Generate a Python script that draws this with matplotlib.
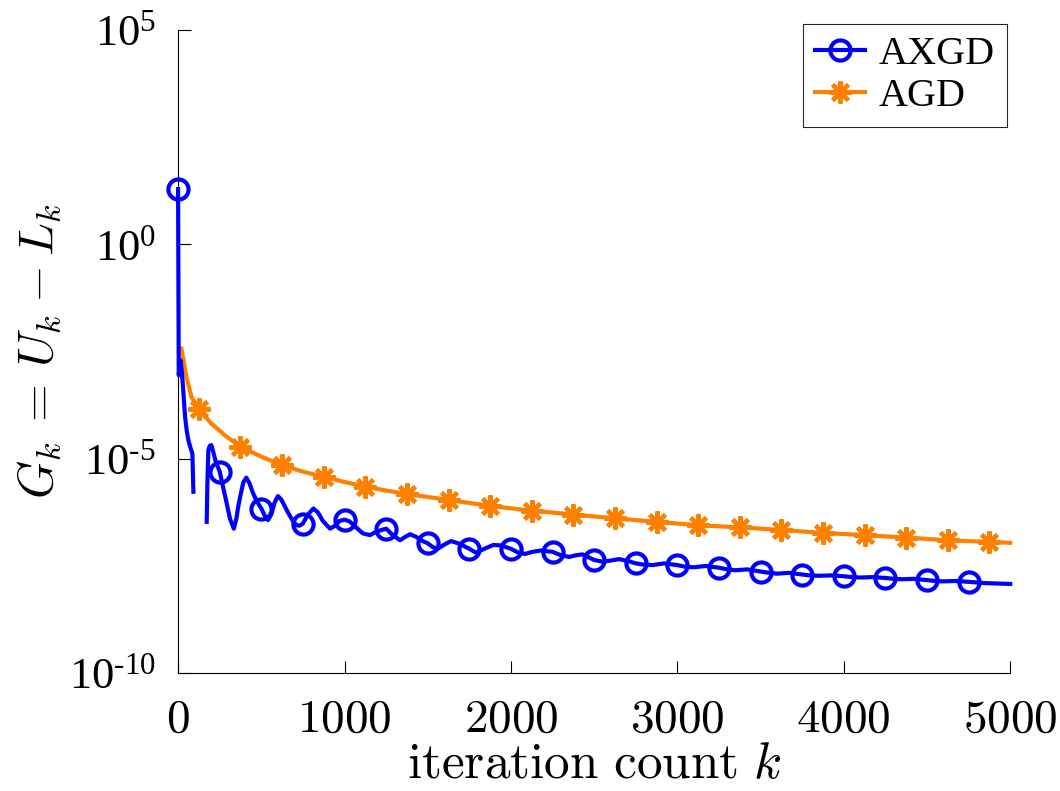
import numpy as np
import matplotlib
matplotlib.use("Agg")
from matplotlib import pyplot as plt

# AXGD: iteration k and log10 of the gap G_k (nan = gap in the curve)
axgd_k = [0, 4, 14, 22, 30, 42, 52, 62, 75, 86, 92, 130,
          172, 176, 182, 190, 200, 212, 225, 250, 270, 290, 312, 335, 350,
          362, 375, 392, 410, 430, 450, 475, 500, 520, 540, 560, 580, 600,
          620, 640, 660, 690, 713, 730, 750, 780, 813, 840, 870, 913, 940,
          970, 1000, 1030, 1070, 1110, 1154, 1190, 1250, 1290, 1334, 1365,
          1394, 1430, 1470, 1500, 1530, 1560, 1600, 1640, 1690, 1750, 1790,
          1840, 1894, 1940, 2000, 2040, 2085, 2130, 2180, 2250, 2300, 2350,
          2390, 2430, 2500, 2550, 2590, 2650, 2700, 2750, 2800, 2850, 2920,
          3000, 3050, 3100, 3170, 3250, 3300, 3350, 3420, 3500, 3550, 3600,
          3670, 3750, 3800, 3850, 3920, 4000, 4050, 4100, 4170, 4250, 4300,
          4350, 4420, 4500, 4550, 4600, 4670, 4750, 4850, 5000]
axgd_log = [1.29, -3.05, -2.70, -2.95, -3.35, -4.02, -4.35, -4.57, -4.75,
            -4.88, -5.77, np.nan,
            -6.47, -5.60, -4.80, -4.70, -4.68, -4.85, -5.05, -5.30, -5.65,
            -6.00, -6.40, -6.63, -6.40, -6.10, -5.85, -5.55, -5.44, -5.58,
            -5.80, -6.00, -6.16, -6.32, -6.43, -6.30, -6.02, -5.87, -5.95,
            -6.10, -6.25, -6.45, -6.55, -6.56, -6.51, -6.30, -6.16, -6.25,
            -6.45, -6.63, -6.57, -6.45, -6.42, -6.46, -6.60, -6.74, -6.78,
            -6.70, -6.63, -6.78, -6.90, -6.82, -6.76, -6.82, -6.92, -6.97,
            -7.06, -7.10, -7.00, -6.92, -6.98, -7.10, -7.19, -7.10, -7.01,
            -7.02, -7.10, -7.18, -7.22, -7.17, -7.14, -7.17, -7.25, -7.29,
            -7.25, -7.23, -7.36, -7.40, -7.38, -7.34, -7.38, -7.44, -7.47,
            -7.48, -7.44, -7.48, -7.52, -7.53, -7.50, -7.54, -7.58, -7.60,
            -7.58, -7.63, -7.66, -7.68, -7.66, -7.70, -7.72, -7.73, -7.72,
            -7.74, -7.76, -7.77, -7.76, -7.78, -7.80, -7.81, -7.80, -7.83,
            -7.85, -7.86, -7.85, -7.87, -7.90, -7.92]
axgd_marks = list(range(0, 5000, 250))

# AGD
agd_k = [20, 50, 80, 125, 200, 290, 375, 500, 625, 750, 875, 1000, 1125,
         1250, 1375, 1500, 1625, 1750, 1875, 2125, 2375, 2625, 2875, 3125,
         3375, 3625, 3875, 4125, 4375, 4625, 4875, 5000]
agd_log = [-2.43, -3.09, -3.55, -3.85, -4.18, -4.48, -4.72, -4.95, -5.15,
           -5.30, -5.42, -5.54, -5.65, -5.74, -5.82, -5.89, -5.96, -6.03,
           -6.10, -6.21, -6.30, -6.39, -6.47, -6.55, -6.60, -6.66, -6.73,
           -6.78, -6.84, -6.90, -6.94, -6.96]
agd_marks = list(range(125, 5000, 250))

x_ticks = [0, 1000, 2000, 3000, 4000, 5000]
y_exps = [-10, -5, 0, 5]

plt.rcParams['font.family'] = ['Liberation Serif', 'DejaVu Serif']
plt.rcParams['mathtext.fontset'] = 'custom'
plt.rcParams['mathtext.rm'] = 'Liberation Serif'
plt.rcParams['mathtext.it'] = 'Liberation Serif:italic'

fig = plt.figure(figsize=(10.6, 7.91), dpi=100)
ax = fig.add_axes([0.168, 0.149, 0.785, 0.813])

blue = '#0000ff'
orange = '#ff8000'

ax.plot(axgd_k, 10.0 ** np.array(axgd_log), color=blue, lw=3,
        marker='o', ms=14.5, mew=3, mfc='none',
        markevery=[axgd_k.index(m) for m in axgd_marks],
        clip_on=False, label='AXGD', zorder=3)
ax.plot(agd_k, 10.0 ** np.array(agd_log), color=orange, lw=3,
        marker=(8, 2, 0), ms=16, mew=3,
        markevery=[agd_k.index(m) for m in agd_marks],
        clip_on=False, label='AGD', zorder=2)

ax.set_yscale('log')
ax.set_xlim(0, 5000)
ax.set_ylim(1e-10, 1e5)
ax.set_xticks(x_ticks)
ax.set_xticklabels([r'$\mathrm{%d}$' % v for v in x_ticks],
                   math_fontfamily='cm', fontsize=34)
ax.set_yticks([10.0 ** e for e in y_exps])
ax.set_yticklabels(['10$^{%s}$' % str(e).replace('-', '\u2010') for e in y_exps],
                   fontsize=32)
ax.yaxis.set_minor_locator(matplotlib.ticker.NullLocator())
ax.spines['top'].set_visible(False)
ax.spines['right'].set_visible(False)
ax.tick_params(direction='in', length=9, width=0.8)
ax.tick_params(axis='x', pad=19)
ax.tick_params(axis='y', pad=16)

ax.set_xlabel(r'$\mathrm{iteration\ count}\ k$', fontsize=37,
              math_fontfamily='cm', labelpad=0)
ax.set_ylabel(r'$G_k\:=\:U_k\:-\:L_k$', fontsize=35,
              math_fontfamily='cm', labelpad=4)

leg = ax.legend(loc='upper right', bbox_to_anchor=(0.9965, 1.01),
                fontsize=29, frameon=True, fancybox=False,
                edgecolor='#262626', framealpha=1, borderpad=0.3,
                handlelength=1.25, handletextpad=0.35, labelspacing=0.12,
                borderaxespad=0.0)
leg.get_frame().set_linewidth(0.8)

fig.savefig('out.png', dpi=100)
